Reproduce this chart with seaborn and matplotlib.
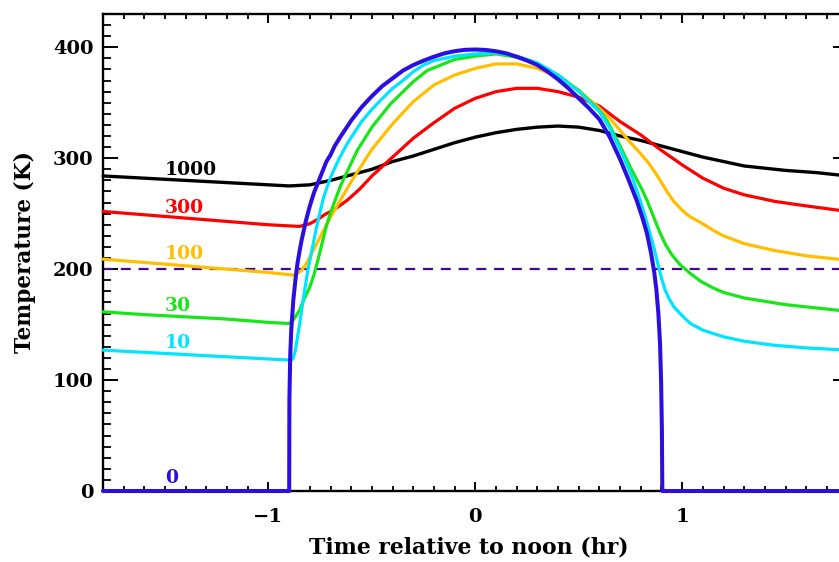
import matplotlib
matplotlib.use("Agg")
import matplotlib.pyplot as plt
from matplotlib.ticker import MultipleLocator
import seaborn as sns

# Surface temperature through a day for several thermal inertia values
hours_0 = [-1.8, -0.9, -0.899, -0.895, -0.89, -0.88, -0.87, -0.86, -0.85, -0.84,
           -0.82, -0.8, -0.78, -0.75, -0.72, -0.7, -0.68, -0.65, -0.6, -0.55,
           -0.5, -0.45, -0.4, -0.35, -0.3, -0.25, -0.2, -0.15, -0.1, -0.05,
           0.0, 0.05, 0.1, 0.15, 0.2, 0.25, 0.3, 0.35, 0.4, 0.45,
           0.5, 0.55, 0.6, 0.65, 0.7, 0.74, 0.78, 0.81, 0.83, 0.85,
           0.865, 0.875, 0.885, 0.893, 0.898, 0.902, 0.904, 1.8]
temp_0 = [0, 0, 81, 122, 145, 172, 190, 205, 216, 226,
          243, 257, 269, 283, 297, 303, 311, 320, 334, 346,
          356, 365, 372, 379, 384, 388, 391.5, 394.5, 396.5, 397.7,
          398, 397.6, 396.4, 394.5, 391.5, 388, 384, 378, 371, 363,
          354, 345, 335, 319, 299, 281, 262, 245, 232, 214,
          197, 182, 160, 133, 100, 55, 0, 0]

hours_10 = [-1.8, -1.6, -1.4, -1.2, -1.0, -0.89, -0.88, -0.87, -0.85, -0.83,
            -0.81, -0.79, -0.77, -0.75, -0.733, -0.7, -0.66, -0.62, -0.55, -0.5,
            -0.459, -0.4, -0.35, -0.3, -0.25, -0.2, -0.1, 0.0, 0.1, 0.2,
            0.3, 0.4, 0.5, 0.6, 0.65, 0.717, 0.76, 0.797, 0.82, 0.845,
            0.865, 0.886, 0.903, 0.918, 0.935, 0.96, 1.0, 1.04, 1.1, 1.2,
            1.3, 1.44, 1.6, 1.8]
temp_10 = [127, 125, 123, 121, 119, 118, 120, 127, 150, 175,
           199, 217, 236, 252, 265, 283, 299, 313, 333, 344,
           352, 363, 370, 378, 384, 388, 392, 394, 395, 392,
           386, 375, 360, 342, 327, 301, 282, 262, 248, 232,
           218, 202, 190, 181, 174, 166, 158, 151, 145, 139,
           135, 131.5, 129, 127]

hours_30 = [-1.8, -1.6, -1.4, -1.2, -1.0, -0.9, -0.885, -0.87, -0.85, -0.83,
            -0.8, -0.78, -0.76, -0.74, -0.72, -0.7, -0.65, -0.571, -0.5, -0.41,
            -0.3, -0.233, -0.1, 0.0, 0.1, 0.2, 0.3, 0.4, 0.5, 0.6,
            0.636, 0.7, 0.749, 0.8, 0.83, 0.86, 0.89, 0.92, 0.95, 0.99,
            1.04, 1.09, 1.15, 1.2, 1.3, 1.4, 1.5, 1.65, 1.8]
temp_30 = [161.5, 159, 157, 155, 152, 151, 153, 157, 163, 172,
           184, 195, 209, 224, 239, 251, 276, 307, 328, 349,
           369, 379, 389, 392, 394, 391, 385, 375, 361, 343,
           334, 311, 292, 274, 262, 248, 234, 222, 213, 204,
           196, 189, 183, 179, 174, 171, 168, 165, 162]

hours_100 = [-1.8, -1.6, -1.4, -1.2, -1.0, -0.9, -0.88, -0.86, -0.84, -0.82,
             -0.8, -0.775, -0.75, -0.7, -0.65, -0.6, -0.5, -0.4, -0.3, -0.2,
             -0.1, 0.0, 0.1, 0.2, 0.3, 0.4, 0.5, 0.6, 0.65, 0.7,
             0.75, 0.8, 0.84, 0.87, 0.9, 0.93, 0.96, 1.0, 1.04, 1.09,
             1.15, 1.2, 1.3, 1.44, 1.6, 1.8]
temp_100 = [209, 206, 203, 200, 197, 195, 194.6, 196, 199, 204,
            211, 220, 229, 247, 263, 279, 308, 331, 351, 366,
            375, 381, 385, 385, 381, 373, 361, 345, 336, 325,
            314, 304, 295, 287, 278, 269, 261, 253, 247, 242,
            235, 230, 223, 217, 212, 208]

hours_300 = [-1.8, -1.6, -1.4, -1.2, -1.0, -0.9, -0.85, -0.8, -0.76, -0.73,
             -0.68, -0.62, -0.56, -0.5, -0.4, -0.3, -0.2, -0.1, 0.0, 0.1,
             0.2, 0.3, 0.4, 0.5, 0.6, 0.7, 0.8, 0.9, 1.0, 1.1,
             1.2, 1.3, 1.45, 1.6, 1.8]
temp_300 = [252, 249, 246, 243, 240, 239, 238.5, 241, 245, 249,
            254, 262, 272, 284, 301, 318, 332, 345, 354, 360,
            363, 363, 360, 355, 347, 333, 321, 307, 294, 282,
            273, 267, 261, 257, 252]

hours_1000 = [-1.8, -1.6, -1.4, -1.2, -1.0, -0.9, -0.8, -0.7, -0.6, -0.5,
              -0.4, -0.3, -0.2, -0.1, 0.0, 0.1, 0.2, 0.3, 0.4, 0.5,
              0.6, 0.7, 0.8, 0.9, 1.0, 1.1, 1.2, 1.3, 1.5, 1.65,
              1.8]
temp_1000 = [284, 282, 280, 278, 276, 275, 276, 280, 285, 290,
             297, 302, 308, 314, 319, 323, 326, 328, 329, 328,
             325, 320, 316, 311, 306, 301, 297, 293, 289, 287,
             284]

inertia_labels = ["1000", "300", "100", "30", "10", "0"]
label_temps = [289, 255, 214, 167, 133, 12]
label_hour = -1.5
threshold_temp = 200

series = [
    (hours_1000, temp_1000, "#000000", 2.4),
    (hours_300, temp_300, "#FF0000", 2.3),
    (hours_100, temp_100, "#FFBF00", 2.3),
    (hours_30, temp_30, "#19E619", 2.3),
    (hours_10, temp_10, "#00E5FF", 2.3),
    (hours_0, temp_0, "#2A0FE0", 2.9),
]

sns.set_style("ticks")
plt.rcParams["font.family"] = ["DejaVu Serif"]
plt.rcParams["font.weight"] = "bold"
for key in ("text.color", "axes.labelcolor", "xtick.color", "ytick.color",
            "axes.edgecolor"):
    plt.rcParams[key] = "black"

fig = plt.figure(figsize=(8.39, 5.62), dpi=100)
ax = fig.add_axes([0.1228, 0.1263, 0.8875, 0.8488])

ax.axhline(threshold_temp, color="#3F0A8C", lw=1.6, dashes=(4.5, 3.5), zorder=1)

for hrs, temps, col, lw in series:
    sns.lineplot(x=hrs, y=temps, color=col, lw=lw, ax=ax, sort=False,
                 estimator=None, clip_on=False, zorder=3)

for (hrs, temps, col, lw), lab, ty in zip(series, inertia_labels, label_temps):
    ax.text(label_hour, ty, lab, color=col, fontsize=13.5, fontweight="bold",
            ha="left", va="center")

ax.set_xlim(-1.8, 1.8)
ax.set_ylim(0, 430)
ax.xaxis.set_major_locator(MultipleLocator(1))
ax.xaxis.set_minor_locator(MultipleLocator(0.1))
ax.yaxis.set_major_locator(MultipleLocator(100))
ax.yaxis.set_minor_locator(MultipleLocator(10))

for s in ax.spines.values():
    s.set_linewidth(1.7)
    s.set_color("black")

ax.tick_params(axis="x", which="major", direction="in", length=6.5, width=1.4,
               top=True, pad=12, labelsize=14, colors="black")
ax.tick_params(axis="x", which="minor", direction="in", length=3.3, width=1.3,
               top=True, colors="black")
ax.tick_params(axis="y", which="major", direction="in", length=10.8, width=1.4,
               right=True, pad=7, labelsize=14, colors="black")
ax.tick_params(axis="y", which="minor", direction="in", length=5.4, width=1.3,
               right=True, colors="black")

ax.set_xlabel("Time relative to noon (hr)", fontsize=15.8, fontweight="bold",
              va="center", color="black")
ax.set_ylabel("Temperature (K)", fontsize=15.6, fontweight="bold", va="center",
              color="black")
ax.xaxis.set_label_coords(0.4915, -0.118)
ax.yaxis.set_label_coords(-0.1048, 0.5)

fig.savefig("out.png", dpi=100)
